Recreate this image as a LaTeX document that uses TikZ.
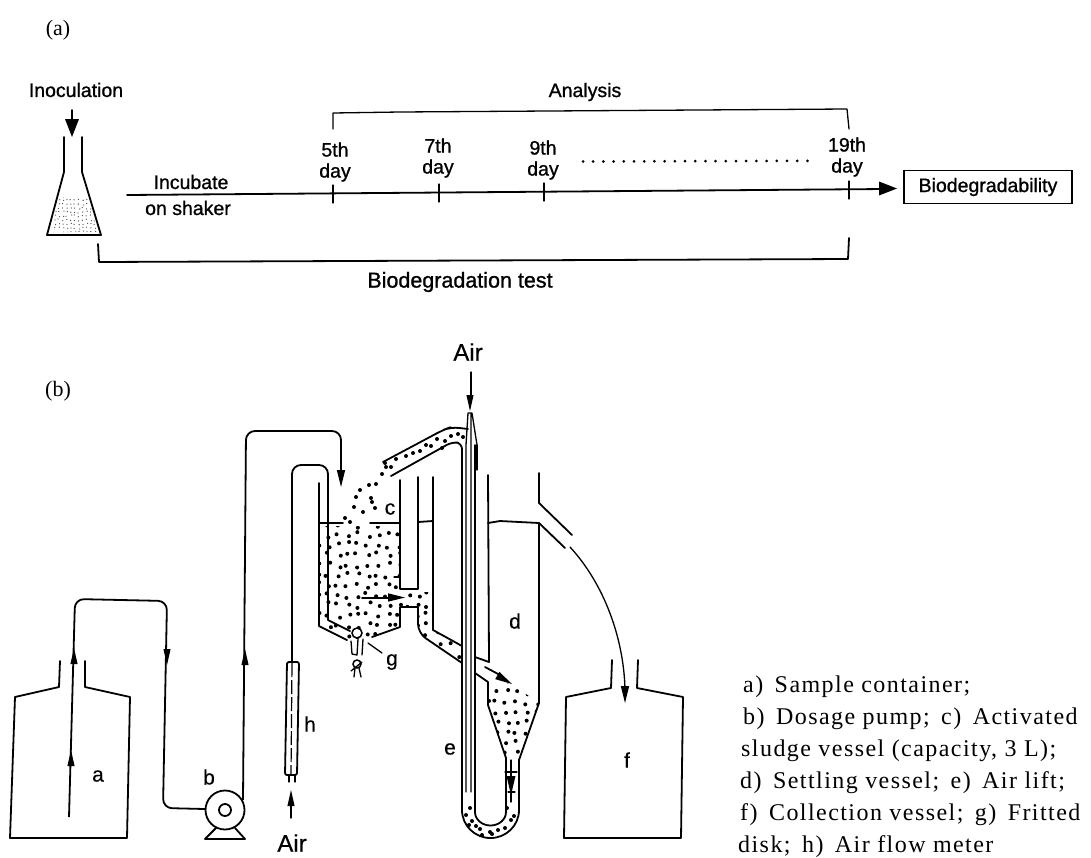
\documentclass[tikz,border=0pt]{standalone}
\usepackage{fontspec}
\setmainfont{Liberation Serif}
\newfontfamily\labsans[FakeBold=1]{Liberation Sans}
\newfontfamily\partsans[FakeBold=0.4]{Liberation Sans}
\newfontfamily\legendfont[LetterSpace=6]{Liberation Serif}
\usetikzlibrary{arrows.meta}
\newcommand{\bigtip}[3]{\fill[shift={(#1,#2)},rotate=-#3] (0,0) -- (-18,-7) -- (-18,7) -- cycle;}
\newcommand{\tipat}[3]{\fill[shift={(#1,#2)},rotate=-#3] (0,0) -- (-17,-4.2) -- (-17,4.2) -- cycle;}
\newcommand{\smalltip}[3]{\fill[shift={(#1,#2)},rotate=-#3] (0,0) -- (-16,-3.6) -- (-16,3.6) -- cycle;}
\tikzset{
  wall/.style={line width=1.8pt,line join=round,line cap=round},
  thin wall/.style={line width=1.3pt,line join=round,line cap=round},
  tube/.style={line width=1.8pt,rounded corners=9pt,line join=round},
  lab/.style={font=\fontsize{19.5}{22}\labsans,inner sep=0pt,align=center},
  part/.style={font=\fontsize{21}{24}\partsans,inner sep=0pt},
  airlab/.style={font=\fontsize{24}{26}\partsans,inner sep=0pt},
  caplabel/.style={font=\fontsize{22}{24}\selectfont,inner sep=0pt},
  leg/.style={font=\fontsize{24}{26}\legendfont,inner sep=0pt,anchor=west},
}
\begin{document}
\begin{tikzpicture}[x=1pt,y=-1pt]
\useasboundingbox (0,0) rectangle (1091,857);
\fill[white] (0,0) rectangle (1091,857);

%% ---------- (a)
\node[caplabel] (capa) at (58,30) {(a)};
\node[lab] (inoc) at (76,90) {Inoculation};
\draw[wall] (72,110) -- (72,122);
\bigtip{72}{137}{90}
\begin{scope}
 \clip (59,197) -- (88,197) -- (98,232) -- (51,232) -- cycle;
 \pgfmathsetseed{11}
 \foreach \i in {46,50,...,102} \foreach \j in {195,199,...,235}
   \fill[black!70] ({\i+2*rnd},{\j+2*rnd}) circle (0.65);
\end{scope}
\draw[wall] (64,137) -- (64,172) -- (47,235) -- (101,235) -- (82,172) -- (82,137);

\node[draw,line width=1.5pt,minimum width=168pt,minimum height=33pt,inner sep=0pt,font=\fontsize{19.5}{22}\labsans] (bio) at (988,187) {Biodegradability};
\coordinate (tl) at (127,195);
\draw[wall] (tl) -- (885,189);
\bigtip{897}{188.5}{0}
\node[lab] (inc) at (191,182) {Incubate};
\node[lab] (shk) at (188,208) {on shaker};
\node[lab] (d5) at (335,162) {5th\\[-1pt]day};
\node[lab] (d7) at (438,158) {7th\\[-1pt]day};
\node[lab] (d9) at (543,160) {9th\\[-1pt]day};
\node[lab] (d19) at (847,157) {19th\\[-1pt]day};
\foreach \x/\yy in {333/194,439/193,544/192,849/190}
  \draw[thin wall] (\x,\yy-9) -- (\x,\yy+9);
\foreach \x in {0,...,22} \fill ({583+\x*10.2},{161.5-\x*0.03}) circle (1.5);
\node[lab] (ana) at (585,92) {Analysis};
\draw[thin wall] (333,129) -- (333,113) -- (400,112) -- (847,109) -- (849,129);
\draw[wall] (98,244) -- (99,262) -- (848,259) -- (849,238);
\node[lab,font=\fontsize{21.5}{24}\labsans] (bt) at (460,282) {Biodegradation test};

%% ---------- (b)
\node[caplabel] (capb) at (58,391) {(b)};

% bottle a
\draw[wall] (60,661) -- (59,687) -- (15,697) -- (10,838) -- (127,838) -- (130,697) -- (85,687) -- (85,661);
\draw[tube] (69,817) -- (75,599) -- (167,601) -- (163,808) -- (205,809);
\smalltip{71}{750}{-90}
\smalltip{74}{648}{-90}
\smalltip{167}{665}{90}
\node[part] (la) at (98,776) {a};

% pump
\node[draw,circle,line width=1.8pt,minimum size=39pt,inner sep=0pt] (pump) at (225,810) {};
\node[draw,circle,line width=1.8pt,minimum size=12pt,inner sep=0pt] (pumpin) at (225,810) {};
\draw[wall] (216,828) -- (205,839) -- (245,839) -- (235,828);
\node[part] (lb) at (209,777) {b};
\draw[tube] (243,800) -- (246,431) -- (341,431) -- (341,470);
\smalltip{245}{649}{-90}
\tipat{341}{487}{90}

% flow meter h
\draw[wall,rounded corners=2pt] (287,662) -- (299,662) -- (297,775) -- (285,775) -- cycle;
\draw[line width=1.2pt,dash pattern=on 14pt off 3pt] (292,663) -- (291,775);
\draw[thin wall] (289,775) -- (289,782) (295,775) -- (295,782);
\draw[tube] (292,662) -- (292,465) -- (328,465) -- (328,520);
\draw[thin wall] (291,818) -- (291,805);
\smalltip{291}{790}{-90}
\node[airlab] (air1) at (292,843) {Air};
\node[part] (lh) at (310,724) {h};

% dots of the activated sludge
\begin{scope}
 \clip (319,526) -- (400,526) -- (400,592) -- (431,592) -- (431,630) -- (462,646) -- (462,663) -- (425,638) -- (418,628) -- (418,607) -- (400,607) -- (400,627) -- (372,637) -- (347,640) -- (319,626) -- cycle;
 \pgfmathsetseed{5}
 \foreach \i in {315,325,...,470} \foreach \j in {522,532,...,670}
   \fill ({\i+6*rnd},{\j+6*rnd}) circle (2);
\end{scope}
\begin{scope}
 \clip (489,685) -- (510,683) -- (539,703) -- (519,758) -- (506,758) -- (488,705) -- cycle;
 \pgfmathsetseed{9}
 \foreach \i in {484,494,...,542} \foreach \j in {680,690,...,764}
   \fill ({\i+5*rnd},{\j+5*rnd}) circle (2);
\end{scope}
\foreach \x/\y in {386/467, 382/474, 376/484, 369/485, 360/490, 371/498, 356/497, 375/508, 354/507, 363/512, 345/518, 350/522, 372/502,
  385/463, 396/459, 406/456, 413/453, 420/451, 431/446, 442/448, 445/441, 451/436, 458/434, 463/437, 437/439, 426/445, 391/467,
  470/808, 466/815, 476/826, 469/825, 482/835, 490/832, 498/830, 505/828, 511/820, 507/808, 514/816, 480/829, 492/834, 472/821}
  \fill (\x,\y) circle (2);

% activated sludge vessel c
\draw[wall] (319,483) -- (319,626) -- (347,640);
\draw[wall] (328,520) -- (328,620) -- (350,631);
\draw[wall] (319,523) -- (343,523) (370,523) -- (400,523) (418,522) -- (433,521);
\draw[wall] (400,480) -- (400,589) -- (418,589) -- (418,477);
\draw[thin wall] (394,577) -- (400,577);
\draw[wall] (372,637) -- (400,627) -- (400,607) -- (418,607);
\draw[wall] (433,477) -- (433,630) -- (462,646);
\draw[tube] (418,607) -- (418,633) -- (462,663);
\draw[wall] (362,598) -- (388,598);
\tipat{405}{597.5}{0}
\node[part] (lc) at (390,509) {c};

% fritted disk g
\node[draw,circle,line width=1.5pt,minimum size=10pt,inner sep=0pt,fill=white] (frit) at (357,633) {};
\draw[thin wall] (351,641) -- (352,654) -- (357,655) -- (358,639);
\draw[thin wall] (363,639) -- (362,655);
\node[draw,circle,line width=1.5pt,minimum size=8pt,inner sep=0pt] (frit2) at (357,664) {};
\draw[thin wall] (355,668) -- (354,677) (359,668) -- (361,677) (351,671) -- (362,662);
\draw[thin wall] (368,643) -- (382,653);
\node[part] (lg) at (392,662) {g};

% overhead pipe
\draw[wall,rounded corners=8pt] (383,462) -- (443,430) -- (451,427) -- (468,429);
\draw[wall,rounded corners=6pt] (391,476) -- (452,442) -- (462,443) -- (462,700);

% air lift
\draw[wall] (462,700) -- (462,810) arc[start angle=180,end angle=0,x radius=28.5,y radius=28] -- (519,760);
\draw[wall] (475,445) -- (475,812) arc[start angle=180,end angle=0,x radius=15.5,y radius=13.5] -- (506,758);
\draw[thin wall] (477,445) -- (472,413) -- (468,413) -- (466,445) -- (466,792) (471,413) -- (471,792);
\draw[thin wall] (477,445) -- (477,470);
\draw[thin wall] (471,372) -- (471,396);
\smalltip{470}{411}{90}
\node[airlab] (air2) at (468,352) {Air};
\node[part] (le) at (450,749) {e};

% return arrow in the narrow leg
\draw[thin wall] (511,760) -- (511,802) (505,772) -- (517,772) (508,792) -- (515,792);
\fill (511,795) -- (506.5,776) -- (515.5,776) -- cycle;

% settling vessel d
\draw[wall] (488,475) -- (489,662) -- (475,657);
\draw[wall] (475,673) -- (488,682) -- (488,705) -- (506,758);
\draw[wall] (488,523) -- (500,521) -- (539,523) -- (539,703) -- (519,760);
\draw[wall] (539,473) -- (539,503) -- (572,535);
\draw[wall] (539,523) -- (565,548);
\draw[wall] (485,667) -- (500,675);
\tipat{512}{684}{30}
\node[part] (ld) at (515,621) {d};

% outflow to f
\draw[thin wall] (570,547) .. controls (605,585) and (624,640) .. (625,690);
\tipat{625}{703}{90}

% bottle f
\draw[wall] (612,660) -- (611,688) -- (566,697) -- (564,838) -- (681,838) -- (683,697) -- (637,688) -- (638,660);
\node[part] (lf) at (627,760) {f};

% legend
\node[leg] (l1) at (743,687) {a)\, Sample container;};
\node[leg] (l2) at (743,719) {b)\, Dosage pump;\, c)\, Activated};
\node[leg] (l3) at (741,751) {sludge vessel (capacity, 3 L);};
\node[leg] (l4) at (740,783) {d)\, Settling vessel;\, e)\, Air lift;};
\node[leg] (l5) at (740,815) {f)\, Collection vessel;\, g)\, Fritted};
\node[leg] (l6) at (738,847) {disk;\, h)\, Air flow meter};
\end{tikzpicture}
\end{document}
